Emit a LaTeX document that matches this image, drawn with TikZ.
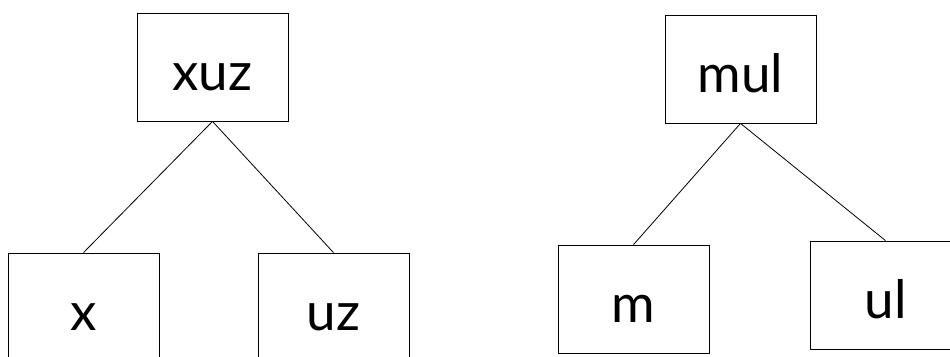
\documentclass[tikz,border=0pt]{standalone}
\usepackage{fontspec}
\setmainfont{Lato}

\begin{document}
\begin{tikzpicture}[x=1pt, y=-1pt,
    box/.style={draw, line width=0.8pt, rectangle, minimum width=151pt, minimum height=108pt,
                inner sep=0pt, text height=60pt, text depth=13pt,
                font=\fontsize{53}{60}\selectfont}]
                    \useasboundingbox (0,0) rectangle (950,356);
                    \clip (0,0) rectangle (950,356);

                    \node[box] (xuz) at (212.5,67) {xuz};
                    \node[box] (x) at (83.5,307) {x};
                    \node[box] (uz) at (333.5,307) {uz};

                    \node[box] (mul) at (740.5,69) {mul};
                    \node[box] (m) at (633.5,299) {m};
                    \node[box] (ul) at (885.5,295) {ul};

                    \draw[line width=0.8pt] (xuz.south) -- (x.north);
                    \draw[line width=0.8pt] (xuz.south) -- (uz.north);
                    \draw[line width=0.8pt] (mul.south) -- (m.north);
                    \draw[line width=0.8pt] (mul.south) -- (ul.north);
                \end{tikzpicture}
\end{document}
